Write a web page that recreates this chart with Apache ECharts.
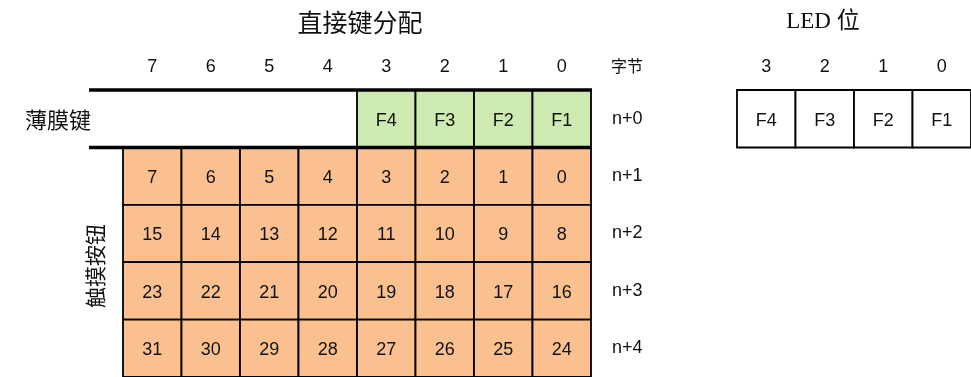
<!DOCTYPE html>
<html>
<head>
<meta charset="utf-8">
<script src="https://cdn.jsdelivr.net/npm/echarts@6/dist/echarts.min.js"></script>
<style>html,body{margin:0;padding:0;background:#fff}#c{width:971px;height:377px}</style>
</head>
<body>
<div id="c"></div>
<script>
// ---- data ----
const bitLabels = ['7', '6', '5', '4', '3', '2', '1', '0'];
const rowLabels = ['n+0', 'n+1', 'n+2', 'n+3', 'n+4'];
const membraneBits = ['3', '2', '1', '0'];
const membraneKeys = ['F4', 'F3', 'F2', 'F1'];
const touchRows = ['n+1', 'n+2', 'n+3', 'n+4'];
const touchButtons = [
  [7, 6, 5, 4, 3, 2, 1, 0],
  [15, 14, 13, 12, 11, 10, 9, 8],
  [23, 22, 21, 20, 19, 18, 17, 16],
  [31, 30, 29, 28, 27, 26, 25, 24]
];
const ledBitLabels = ['3', '2', '1', '0'];
const ledKeys = ['F4', 'F3', 'F2', 'F1'];
const titleMain = '直接键分配';
const titleLed = 'LED 位';
const byteLabel = '字节';
const membraneLabel = '薄膜键';
const touchLabel = '触摸按钮';

// ---- styles ----
const GREEN = '#cdeab0';
const ORANGE = '#fac090';
const SANS = '"Liberation Sans", Arial, sans-serif';
const CJK = '"Noto Sans CJK SC", sans-serif';
const TXT = '#111';

// ---- build series data ----
const cellData = [];
membraneBits.forEach((b, i) => cellData.push([b, 'n+0', membraneKeys[i], 'g']));
touchRows.forEach((r, ri) => touchButtons[ri].forEach((v, ci) => cellData.push([bitLabels[ci], r, String(v), 'o'])));
const ledData = ledBitLabels.map((b, i) => [b, 'LED', ledKeys[i], 'w']);

function cellRender(params, api) {
  const c = api.coord([api.value(0), api.value(1)]);
  const s = api.size([1, 1]);
  const kind = api.value(3);
  const fill = kind === 'g' ? GREEN : kind === 'o' ? ORANGE : '#ffffff';
  return {
    type: 'group',
    children: [
      { type: 'rect', shape: { x: c[0] - s[0] / 2, y: c[1] - s[1] / 2, width: s[0], height: s[1] },
        style: { fill: fill, stroke: '#000', lineWidth: 1.8 } },
      { type: 'text', x: c[0], y: c[1] + 2,
        style: { text: api.value(2), font: '18px ' + SANS, fill: TXT, align: 'center', verticalAlign: 'middle' } }
    ]
  };
}

function bandRender(params, api) {
  const l = api.coord([bitLabels[0], rowLabels[0]]);
  const r = api.coord([bitLabels[bitLabels.length - 1], rowLabels[0]]);
  const s = api.size([1, 1]);
  const x1 = l[0] - s[0] / 2 - 34, x2 = r[0] + s[0] / 2 + 1;
  const yT = l[1] - s[1] / 2, yB = l[1] + s[1] / 2;
  return {
    type: 'group',
    children: [
      { type: 'line', shape: { x1: x1, y1: yT, x2: x2, y2: yT }, style: { stroke: '#000', lineWidth: 3.5 } },
      { type: 'line', shape: { x1: x1, y1: yB, x2: x2, y2: yB }, style: { stroke: '#000', lineWidth: 3.5 } }
    ]
  };
}

const chart = echarts.init(document.getElementById('c'), null, { renderer: 'canvas' });
chart.setOption({
  animation: false,
  backgroundColor: '#fff',
  grid: [
    { left: 123, top: 90, width: 468, height: 292 },
    { left: 737, top: 90, width: 234, height: 57.5 }
  ],
  xAxis: [
    { type: 'category', gridIndex: 0, data: bitLabels, position: 'top',
      axisLine: { show: false }, axisTick: { show: false }, splitLine: { show: false },
      axisLabel: { margin: 14, fontSize: 18, color: TXT, fontFamily: SANS } },
    { type: 'category', gridIndex: 1, data: ledBitLabels, position: 'top',
      axisLine: { show: false }, axisTick: { show: false }, splitLine: { show: false },
      axisLabel: { margin: 14, fontSize: 18, color: TXT, fontFamily: SANS } }
  ],
  yAxis: [
    { type: 'category', gridIndex: 0, data: rowLabels, inverse: true, position: 'right',
      axisLine: { show: false }, axisTick: { show: false }, splitLine: { show: false },
      axisLabel: { margin: 21, fontSize: 18, color: TXT, fontFamily: SANS, padding: [4, 0, 0, 0] } },
    { type: 'category', gridIndex: 1, data: ['LED'], show: false }
  ],
  graphic: [
    { type: 'text', x: 360, y: 22, style: { text: titleMain, font: '25px ' + CJK, fill: TXT, align: 'center', verticalAlign: 'middle' } },
    { type: 'text', x: 823, y: 22, style: { text: titleLed, font: '23px "Liberation Serif", ' + CJK, fill: TXT, align: 'center', verticalAlign: 'middle' } },
    { type: 'text', x: 627, y: 66, style: { text: byteLabel, font: '16px ' + CJK, fill: TXT, align: 'center', verticalAlign: 'middle' } },
    { type: 'text', x: 58, y: 120, style: { text: membraneLabel, font: '22px ' + CJK, fill: TXT, align: 'center', verticalAlign: 'middle' } },
    { type: 'text', x: 95, y: 266, rotation: Math.PI / 2, style: { text: touchLabel, font: '21px ' + CJK, fill: TXT, align: 'center', verticalAlign: 'middle' } }
  ],
  series: [
    { type: 'custom', xAxisIndex: 0, yAxisIndex: 0, renderItem: cellRender, data: cellData, silent: true },
    { type: 'custom', xAxisIndex: 0, yAxisIndex: 0, renderItem: bandRender, data: [[bitLabels[0], rowLabels[0]]], silent: true, z: 5 },
    { type: 'custom', xAxisIndex: 1, yAxisIndex: 1, renderItem: cellRender, data: ledData, silent: true }
  ]
});
</script>
</body>
</html>
